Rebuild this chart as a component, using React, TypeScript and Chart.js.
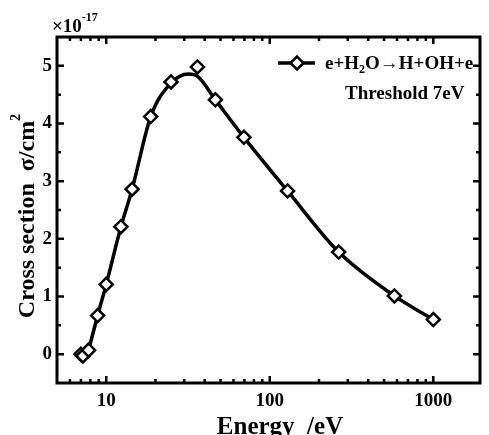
import React, { useEffect, useRef } from 'react';
import { Chart, registerables } from 'chart.js';

Chart.register(...registerables);

// Measured cross section of e + H2O -> H + OH + e (units of 1e-17 cm^2)
const energyEV = [7, 7.2, 7.8, 8.86, 10, 12.3, 14.4, 18.7, 24.9, 36.1, 46.5, 69.5, 128.5, 264, 578, 1000];
const crossSection = [0, -0.03, 0.07, 0.67, 1.21, 2.21, 2.86, 4.12, 4.72, 4.98, 4.41, 3.76, 2.83, 1.77, 1.01, 0.6];

// Smooth fitted curve through the measurements
const fitEnergy = [7.8, 8.86, 10, 12.3, 14.4, 18.7, 24.9, 31.8, 36.1, 46.5, 69.5, 128.5, 264, 578, 1000];
const fitCross = [0.07, 0.67, 1.21, 2.21, 2.86, 4.12, 4.7, 4.86, 4.82, 4.41, 3.76, 2.83, 1.77, 1.01, 0.6];

const xMajorTicks = [10, 100, 1000];
const yMajorTicks = [0, 1, 2, 3, 4, 5];

const FONT = '"Liberation Serif", "Times New Roman", serif';

const framePlugin = {
  id: 'frameAndTicks',
  beforeDatasetsDraw(chart: any) {
    const { ctx, chartArea } = chart;
    const { left, right, top, bottom } = chartArea;
    const xs = chart.scales.x;
    const ys = chart.scales.y;
    ctx.save();
    ctx.strokeStyle = '#000';
    ctx.lineWidth = 2.5;
    ctx.lineCap = 'butt';
    const major = 7;
    const minor = 4;
    // x ticks (log decades + minor)
    for (let dec = 1; dec <= 1000; dec *= 10) {
      for (let m = 1; m <= 9; m++) {
        const v = dec * m;
        if (v <= xs.min || v >= xs.max) continue;
        const px = xs.getPixelForValue(v);
        const len = xMajorTicks.includes(v) ? major : minor;
        ctx.beginPath();
        ctx.moveTo(px, bottom);
        ctx.lineTo(px, bottom - len);
        ctx.moveTo(px, top);
        ctx.lineTo(px, top + len);
        ctx.stroke();
      }
    }
    // y ticks every 0.5
    for (let v = 0; v <= 5.001; v += 0.5) {
      const py = ys.getPixelForValue(v);
      const len = Number.isInteger(v) ? major : minor;
      ctx.beginPath();
      ctx.moveTo(left, py);
      ctx.lineTo(left + len, py);
      ctx.moveTo(right, py);
      ctx.lineTo(right - len, py);
      ctx.stroke();
    }
    ctx.lineWidth = 3;
    ctx.strokeRect(left, top, right - left, bottom - top);
    ctx.restore();
  },
  afterDraw(chart: any) {
    const { ctx } = chart;
    ctx.save();
    ctx.fillStyle = '#000';
    ctx.textBaseline = 'alphabetic';

    // exponent marker
    ctx.font = `bold 19px ${FONT}`;
    ctx.textAlign = 'left';
    ctx.fillText('\u00d710', 52, 32);
    const w10 = ctx.measureText('\u00d710').width;
    ctx.font = `bold 12px ${FONT}`;
    ctx.fillText('-17', 52 + w10, 21);

    // legend sample
    const ly = 63;
    ctx.strokeStyle = '#000';
    ctx.lineWidth = 3.5;
    ctx.beginPath();
    ctx.moveTo(278, ly);
    ctx.lineTo(315, ly);
    ctx.stroke();
    ctx.lineWidth = 2.5;
    ctx.fillStyle = '#fff';
    ctx.beginPath();
    const r = 6.5;
    ctx.moveTo(297 - r, ly);
    ctx.lineTo(297, ly - r);
    ctx.lineTo(297 + r, ly);
    ctx.lineTo(297, ly + r);
    ctx.closePath();
    ctx.fill();
    ctx.stroke();

    ctx.fillStyle = '#000';
    let x = 325;
    const base = 69;
    ctx.font = `bold 19px ${FONT}`;
    ctx.fillText('e+H', x, base);
    x += ctx.measureText('e+H').width;
    ctx.font = `bold 12px ${FONT}`;
    ctx.fillText('2', x, base + 4);
    x += ctx.measureText('2').width;
    ctx.font = `bold 19px ${FONT}`;
    ctx.fillText('O\u2192H+OH+e', x, base);

    ctx.fillText('Threshold 7eV', 345, 99);

    // x title
    ctx.font = `bold 25px ${FONT}`;
    ctx.textAlign = 'center';
    ctx.fillText('Energy  /eV', 280, 434);

    // y title (rotated)
    ctx.translate(26, 216);
    ctx.rotate(-Math.PI / 2);
    ctx.textAlign = 'left';
    const main = 'Cross section  \u03c3/cm';
    ctx.font = `bold 24px ${FONT}`;
    const mw = ctx.measureText(main).width;
    ctx.font = `bold 14px ${FONT}`;
    const sw = ctx.measureText('2').width;
    const start = -(mw + sw) / 2;
    ctx.font = `bold 24px ${FONT}`;
    ctx.fillText(main, start, 8);
    ctx.font = `bold 14px ${FONT}`;
    ctx.fillText('2', start + mw, -6);
    ctx.restore();
  },
};

export default function App() {
  const canvasRef = useRef<HTMLCanvasElement>(null);

  useEffect(() => {
    const canvas = canvasRef.current;
    if (!canvas) return;
    const chart = new Chart(canvas, {
      type: 'scatter',
      data: {
        datasets: [
          {
            label: 'e+H2O\u2192H+OH+e',
            data: energyEV.map((e, i) => ({ x: e, y: crossSection[i] })),
            showLine: false,
            pointStyle: 'rectRot',
            pointRadius: 6.5,
            pointBorderWidth: 2.5,
            pointBackgroundColor: '#fff',
            pointBorderColor: '#000',
          },
          {
            label: 'fit',
            data: fitEnergy.map((e, i) => ({ x: e, y: fitCross[i] })),
            showLine: true,
            borderColor: '#000',
            borderWidth: 3.5,
            pointRadius: 0,
            cubicInterpolationMode: 'monotone',
            fill: false,
          },
        ],
      },
      options: {
        responsive: false,
        animation: false,
        devicePixelRatio: 1,
        layout: { padding: { top: 37, right: 5, left: 0, bottom: 0 } },
        plugins: {
          legend: { display: false },
          tooltip: { enabled: false },
          title: { display: false },
        },
        scales: {
          x: {
            type: 'logarithmic',
            min: 5,
            max: 1930,
            grid: { display: false, drawTicks: false },
            border: { display: false },
            afterFit: (s: any) => {
              s.height = 52;
              s.paddingLeft = 0;
              s.paddingRight = 0;
            },
            afterBuildTicks: (s: any) => {
              s.ticks = xMajorTicks.map((v) => ({ value: v, major: true }));
            },
            ticks: {
              autoSkip: false,
              maxRotation: 0,
              padding: 7,
              color: '#000',
              font: { family: FONT, size: 19, weight: 'bold' },
              callback: (v: any) => String(v),
            },
          },
          y: {
            min: -0.5,
            max: 5.5,
            grid: { display: false, drawTicks: false },
            border: { display: false },
            afterFit: (s: any) => {
              s.width = 57;
              s.paddingTop = 0;
              s.paddingBottom = 0;
            },
            afterBuildTicks: (s: any) => {
              s.ticks = yMajorTicks.map((v) => ({ value: v }));
            },
            ticks: {
              padding: 5,
              color: '#000',
              font: { family: FONT, size: 19, weight: 'bold' },
              callback: (v: any) => String(v),
            },
          },
        },
      },
      plugins: [framePlugin],
    } as any);
    return () => chart.destroy();
  }, []);

  return (
    <div style={{ position: 'fixed', left: 0, top: 0, width: 489, height: 435, background: '#fff' }}>
      <canvas ref={canvasRef} width={489} height={435} />
    </div>
  );
}
